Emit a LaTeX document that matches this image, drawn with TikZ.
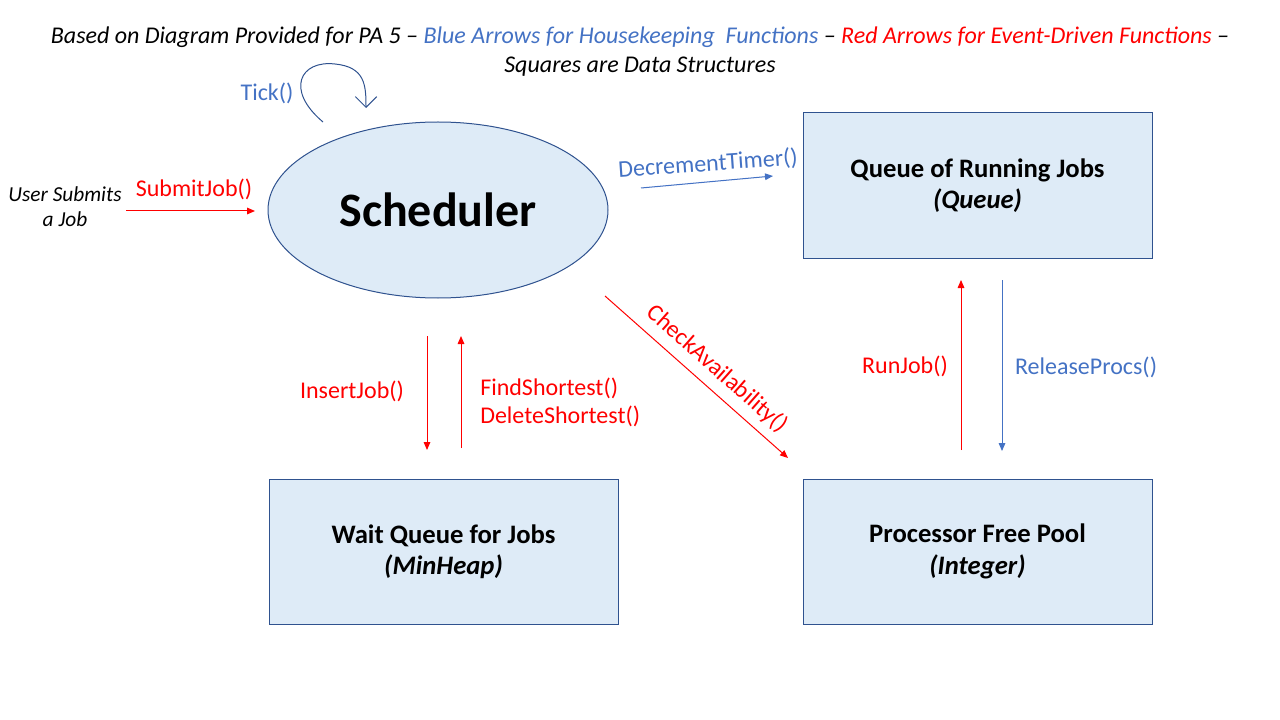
\documentclass[tikz,border=0pt]{standalone}
\usepackage{fontspec}
\setmainfont{Carlito}
\usepackage{tikz}
\usetikzlibrary{shapes.geometric}
\usetikzlibrary{arrows.meta}

\definecolor{hkblue}{HTML}{4472C4}
\definecolor{evred}{HTML}{FF0000}
\definecolor{dsfill}{HTML}{DEEBF7}
\definecolor{dsline}{HTML}{2F528F}

\begin{document}
\begin{tikzpicture}[x=0.75pt,y=-0.75pt,
	datastruct/.style={draw=dsline,fill=dsfill,line width=0.75pt,minimum width=261.75pt,minimum height=108.75pt,inner sep=0pt,align=center,font=\fontsize{20}{23.5}\selectfont\bfseries},
	evarrow/.style={draw=evred,line width=0.75pt,-{Triangle[length=6pt,width=5pt]}},
	hkarrow/.style={draw=hkblue,line width=0.75pt,-{Triangle[length=6pt,width=5pt]}},
	evlabel/.style={text=evred,inner sep=0pt,font=\fontsize{18}{21}\selectfont},
	hklabel/.style={text=hkblue,inner sep=0pt,font=\fontsize{18}{21}\selectfont}]
	\useasboundingbox (0,0) rectangle (1280,720);
	
	% title
	\node[align=center,inner sep=0pt,font=\fontsize{18}{21.6}\selectfont\itshape] (title) at (640,51.5)
	{Based on Diagram Provided for PA 5 -- \textcolor{hkblue}{Blue Arrows for Housekeeping~ Functions} -- \textcolor{evred}{Red Arrows for Event-Driven Functions} --\\Squares are Data Structures};
	
	% scheduler and data structures
	\node[ellipse,draw=dsline,fill=dsfill,line width=0.75pt,minimum width=255pt,minimum height=132pt,inner sep=0pt,font=\fontsize{36}{43}\selectfont\bfseries] (sched) at (438,210) {Scheduler};
	\node[datastruct] (running) at (977.5,185.5) {\raisebox{0pt}[\height][\depth]{}Queue of Running Jobs\\\textit{(Queue)}};
	\node[datastruct] (wait) at (443.5,551.5) {Wait Queue for Jobs\\\textit{(MinHeap)}};
	\node[datastruct] (pool) at (977.5,551.5) {Processor Free Pool\\\textit{(Integer)}};
	
	\node[align=center,inner sep=0pt,font=\fontsize{16}{19}\selectfont\itshape] (user) at (65,207) {User Submits\\a Job};
	
	% arrow ends
	\coordinate (subA) at (126,211);
	\coordinate (subB) at (255,211);
	\coordinate (tickA) at (323,122);
	\coordinate (tickB) at (366,108);
	\coordinate (decA) at (641,188);
	\coordinate (decB) at (773,176);
	\coordinate (chkA) at (605,296);
	\coordinate (chkB) at (788,458);
	\coordinate (insA) at (427,336);
	\coordinate (insB) at (427,450);
	\coordinate (findA) at (461,448);
	\coordinate (findB) at (461,336);
	\coordinate (runA) at (961,450);
	\coordinate (runB) at (961,280);
	\coordinate (relA) at (1002,280);
	\coordinate (relB) at (1002,451);
	
	% event-driven
	\draw[evarrow] (subA) -- (subB);
	\node[evlabel] at (194,189) {SubmitJob()};
	\draw[evarrow] (chkA) -- (chkB);
	\node[evlabel,rotate=-41.5] at (717,369) {CheckAvailability()};
	\draw[evarrow] (insA) -- (insB);
	\node[evlabel] at (352,391) {InsertJob()};
	\draw[evarrow] (findA) -- (findB);
	\node[evlabel,anchor=west,align=left] at (480,402) {FindShortest()\\DeleteShortest()};
	\draw[evarrow] (runA) -- (runB);
	\node[evlabel] at (905,366) {RunJob()};
	
	% housekeeping
	\draw[draw=dsline,line width=0.75pt,-{Straight Barb[length=8pt,width=16pt]}] (tickA) .. controls (285,90) and (300,60) .. (335,64) .. controls (365,67) and (366,85) .. (tickB);
	\node[hklabel] at (267,93) {Tick()};
	\draw[hkarrow] (decA) -- (decB);
	\node[hklabel,rotate=4] at (708,164) {DecrementTimer()};
	\draw[hkarrow] (relA) -- (relB);
	\node[hklabel] at (1086,367) {ReleaseProcs()};
\end{tikzpicture}
\end{document}
